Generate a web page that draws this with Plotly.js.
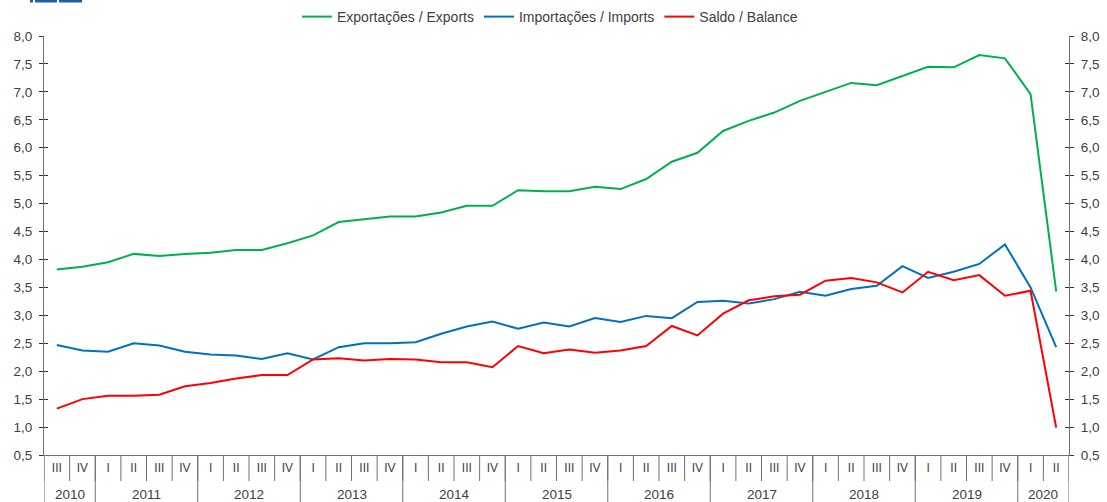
<!DOCTYPE html>
<html>
<head>
<meta charset="utf-8">
<script src="https://cdn.plot.ly/plotly-3.0.1.min.js"></script>
<style>
  html, body { margin: 0; padding: 0; background: #fff; }
  #chart { width: 1107px; height: 502px; }
</style>
</head>
<body>
<div id="chart"></div>
<script>
// quarterly series, 2010 III .. 2020 II
const yearLabels = ['2010', '2011', '2012', '2013', '2014', '2015', '2016', '2017', '2018', '2019', '2020'];
const quarterLabels = ['I', 'II', 'III', 'IV'];
const firstQuarter = 2;   // 2010 starts at III
const lastQuarter = 1;    // 2020 ends at II

const exportsValues = [3.82, 3.87, 3.95, 4.10, 4.06, 4.10, 4.12, 4.17, 4.17, 4.29,
    4.43, 4.67, 4.72, 4.77, 4.77, 4.84, 4.96, 4.96, 5.24, 5.22,
    5.22, 5.30, 5.26, 5.44, 5.75, 5.91, 6.30, 6.48, 6.63, 6.84,
    7.00, 7.16, 7.12, 7.29, 7.45, 7.44, 7.66, 7.60, 6.96, 3.43];
const importsValues = [2.47, 2.37, 2.35, 2.50, 2.46, 2.35, 2.30, 2.28, 2.22, 2.32,
    2.21, 2.43, 2.50, 2.50, 2.52, 2.67, 2.80, 2.89, 2.76, 2.87,
    2.80, 2.95, 2.88, 2.99, 2.95, 3.24, 3.26, 3.21, 3.29, 3.42,
    3.35, 3.47, 3.53, 3.88, 3.67, 3.78, 3.92, 4.27, 3.50, 2.43];
const balanceValues = [1.33, 1.50, 1.56, 1.56, 1.58, 1.73, 1.79, 1.87, 1.93, 1.93,
    2.21, 2.23, 2.19, 2.22, 2.21, 2.16, 2.16, 2.07, 2.45, 2.32,
    2.39, 2.33, 2.37, 2.45, 2.81, 2.64, 3.03, 3.27, 3.34, 3.37,
    3.62, 3.67, 3.59, 3.41, 3.78, 3.63, 3.72, 3.35, 3.44, 0.99];

// build the category list (one per quarter) + year groups
const xCats = [];
const xTickText = [];
const yearGroups = [];   // {label, start, end} in category index
yearLabels.forEach((yr, yi) => {
    const qStart = yi === 0 ? firstQuarter : 0;
    const qEnd = yi === yearLabels.length - 1 ? lastQuarter : 3;
    const start = xCats.length;
    for (let q = qStart; q <= qEnd; q++) {
        xCats.push(yr + ' ' + quarterLabels[q]);
        xTickText.push(quarterLabels[q]);
    }
    yearGroups.push({ label: yr, start: start, end: xCats.length - 1 });
});

const fontFamily = '"Liberation Sans", Arial, Helvetica, sans-serif';
const textColor = '#404040';
const axisColor = '#707070';

const traces = [
    { x: xCats, y: exportsValues, type: 'scatter', mode: 'lines', name: 'Exportações / Exports',
      line: { color: '#00b050', width: 2 } },
    { x: xCats, y: importsValues, type: 'scatter', mode: 'lines', name: 'Importações / Imports',
      line: { color: '#0070c0', width: 2 } },
    { x: xCats, y: balanceValues, type: 'scatter', mode: 'lines', name: 'Saldo / Balance',
      line: { color: '#ff0000', width: 2 } },
    // empty helpers so the mirrored / inner-tick axes get drawn
    { x: [], y: [], yaxis: 'y2', showlegend: false, hoverinfo: 'skip' },
    { x: [], y: [], yaxis: 'y3', showlegend: false, hoverinfo: 'skip' },
    { x: [], y: [], yaxis: 'y4', showlegend: false, hoverinfo: 'skip' }
];

const yCommon = {
    range: [0.5, 8.0],
    autorange: false,
    dtick: 0.5,
    tick0: 0.5,
    tickformat: '.1f',
    showgrid: false,
    zeroline: false,
    showline: true,
    linecolor: axisColor,
    linewidth: 1,
    ticks: 'outside',
    ticklen: 4,
    tickwidth: 1,
    tickcolor: '#333',
    ticklabelstandoff: 4,
    tickfont: { family: fontFamily, size: 13.5, color: textColor }
};
const yInner = {
    range: [0.5, 8.0],
    autorange: false,
    dtick: 0.5,
    tick0: 0.5,
    showgrid: false,
    zeroline: false,
    showline: false,
    ticks: 'inside',
    ticklen: 4,
    tickwidth: 1,
    tickcolor: '#333',
    showticklabels: false,
    overlaying: 'y'
};

// plot area in px, used to convert layout decorations to paper units
const plotTop = 36, plotBottom = 455, plotH = plotBottom - plotTop;
const pxToPaperY = py => (plotBottom - py) / plotH;

const shapes = [];
// quarter separators under the axis
for (let i = 0; i <= xCats.length; i++) {
    shapes.push({ type: 'line', xref: 'x', yref: 'paper', x0: i - 0.5, x1: i - 0.5,
        y0: 0, y1: pxToPaperY(481), line: { color: axisColor, width: 1 } });
}
// year separators run to the bottom edge
yearGroups.forEach(g => {
    shapes.push({ type: 'line', xref: 'x', yref: 'paper', x0: g.start - 0.5, x1: g.start - 0.5,
        y0: 0, y1: pxToPaperY(502), line: { color: axisColor, width: 1 } });
});
shapes.push({ type: 'line', xref: 'x', yref: 'paper', x0: xCats.length - 0.5, x1: xCats.length - 0.5,
    y0: 0, y1: pxToPaperY(502), line: { color: axisColor, width: 1 } });
// blue header bars (cropped logo) at the top left
[[30, 33], [35, 57], [59, 82]].forEach(([a, b]) => {
    shapes.push({ type: 'rect', xref: 'paper', yref: 'paper',
        x0: (a - 44) / 1025, x1: (b - 44) / 1025, y0: pxToPaperY(2.5), y1: pxToPaperY(0),
        fillcolor: '#1f5fa3', line: { width: 0 } });
});

const annotations = yearGroups.map(g => ({
    xref: 'x', yref: 'paper',
    x: (g.start + g.end) / 2, y: pxToPaperY(494),
    text: g.label, showarrow: false,
    xanchor: 'center', yanchor: 'middle',
    font: { family: fontFamily, size: 13.5, color: textColor }
}));

const layout = {
    width: 1107,
    height: 502,
    margin: { l: 44, r: 38, t: 36, b: 47, autoexpand: false },
    paper_bgcolor: '#ffffff',
    plot_bgcolor: '#ffffff',
    separators: ', ',
    font: { family: fontFamily, color: textColor },
    showlegend: true,
    legend: {
        orientation: 'h',
        xref: 'container', yref: 'container',
        x: 550 / 1107, xanchor: 'center',
        y: 1 - 17 / 502, yanchor: 'middle',
        font: { family: fontFamily, size: 14, color: textColor },
        itemwidth: 30,
        tracegroupgap: 0
    },
    xaxis: {
        type: 'category',
        range: [-0.5, xCats.length - 0.5],
        tickmode: 'array',
        tickvals: xCats,
        ticktext: xTickText,
        showgrid: false,
        zeroline: false,
        showline: true,
        linecolor: axisColor,
        linewidth: 1,
        ticks: '',
        tickangle: 0,
        ticklabelstandoff: 2,
        tickfont: { family: fontFamily, size: 12, color: textColor }
    },
    yaxis: { ...yCommon, side: 'left' },
    yaxis2: { ...yCommon, side: 'right', overlaying: 'y' },
    yaxis3: { ...yInner, side: 'left' },
    yaxis4: { ...yInner, side: 'right' },
    shapes: shapes,
    annotations: annotations
};

Plotly.newPlot('chart', traces, layout, { displayModeBar: false, responsive: false });
</script>
</body>
</html>
